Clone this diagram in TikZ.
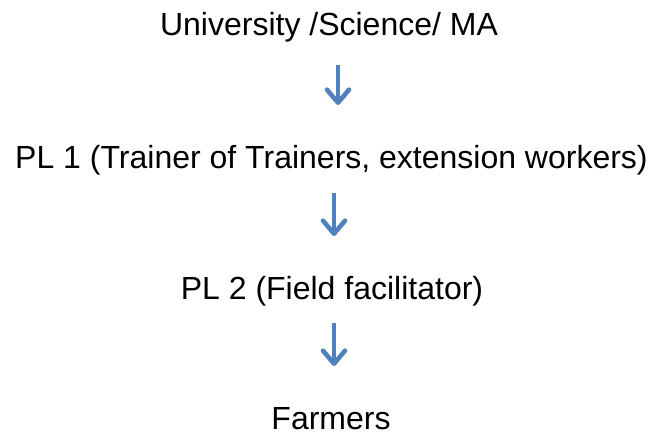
\documentclass[tikz,border=0pt]{standalone}
\usepackage{fontspec}
\setmainfont{Liberation Sans}
\usetikzlibrary{arrows.meta}
\definecolor{flowblue}{RGB}{79,129,189}
\begin{document}
\begin{tikzpicture}[x=1pt,y=1pt,
  level/.style={font=\fontsize{32}{38}\selectfont, anchor=base, inner sep=0pt},
  flow/.style={draw=flowblue, line width=3.2pt,
    -{Straight Barb[length=13pt,width=22pt,line width=4.6pt,line cap=round,line join=round]}}]
  \useasboundingbox (0,0) rectangle (651,433);
  % levels, placed by baseline
  \node[level] (uni) at (329,433-36) {University /Science/ MA};
  \node[level] (pl1) at (331.5,433-169) {PL 1 (Trainer of Trainers, extension workers)};
  \node[level] (pl2) at (332,433-300) {PL 2 (Field facilitator)};
  \node[level, text depth=0pt] (farm) at (331,433-430) {Farmers};
  % arrow ends
  \coordinate (a1s) at (338,433-65);  \coordinate (a1e) at (338,433-105);
  \coordinate (a2s) at (334,433-193); \coordinate (a2e) at (334,433-236);
  \coordinate (a3s) at (334,433-323); \coordinate (a3e) at (334,433-366);
  \draw[flow] (a1s) -- (a1e);
  \draw[flow] (a2s) -- (a2e);
  \draw[flow] (a3s) -- (a3e);
\end{tikzpicture}
\end{document}
